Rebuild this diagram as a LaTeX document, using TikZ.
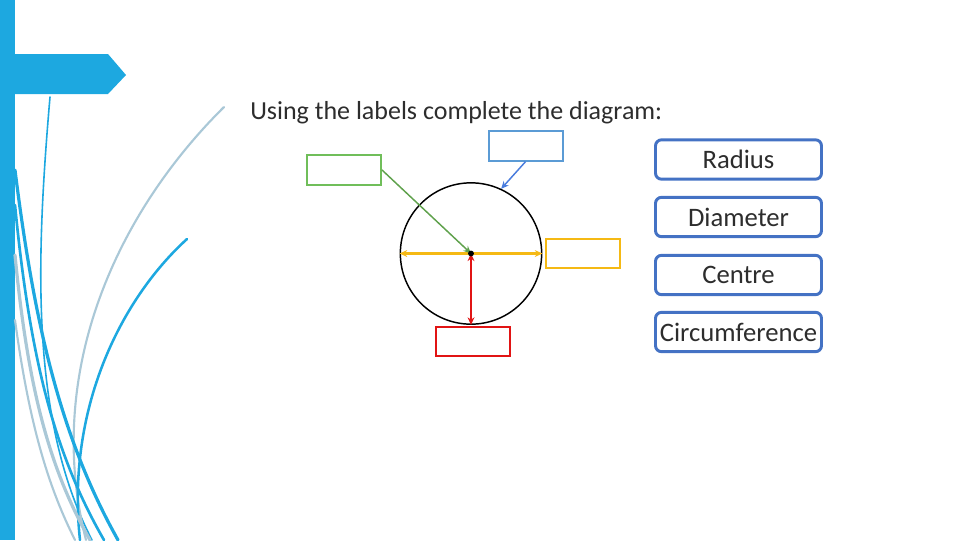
\documentclass[tikz,border=0pt]{standalone}
\usepackage{fontspec}
\setmainfont{Carlito}
\usepackage{xcolor}
\usetikzlibrary{arrows.meta,calc}

\definecolor{barblue}{RGB}{29,168,224}
\definecolor{paleblue}{RGB}{170,200,215}
\definecolor{lblgreen}{RGB}{112,190,90}
\definecolor{lblblue}{RGB}{91,155,213}
\definecolor{lblyellow}{RGB}{245,185,20}
\definecolor{lblred}{RGB}{225,20,20}
\definecolor{wordblue}{RGB}{68,114,196}
\definecolor{inkgray}{RGB}{45,45,45}

\begin{document}
\begin{tikzpicture}[
  x=0.75pt, y=-0.75pt,
  font=\fontsize{20}{22}\selectfont,
  text=inkgray,
  blank/.style={draw, line width=1.5pt, minimum width=55.5pt, minimum height=22pt, inner sep=0pt},
  word/.style={draw=wordblue, line width=2.2pt, rounded corners=4.5pt, minimum width=124.5pt, minimum height=29.5pt, inner sep=0pt, fill=white},
  arr/.style={-{Stealth[length=2mm,width=1.8mm]}, line width=1.1pt},
  darr/.style={{Stealth[length=2mm,width=1.8mm]}-{Stealth[length=2mm,width=1.8mm]}, line width=1.6pt},
  swoosh/.style={line cap=round},
]
  \useasboundingbox (0,0) rectangle (960,540);

  % slide decoration on the left
  \fill[barblue] (0,0) rectangle (15,540);
  \fill[barblue] (15,54) -- (108,54) -- (126,75) -- (108,94) -- (15,94) -- cycle;
  \draw[swoosh, barblue, line width=1.2pt] (50,97) .. controls (36,260) and (30,420) .. (92,540);
  \draw[swoosh, paleblue, line width=1.6pt] (224,107) .. controls (110,220) and (45,380) .. (86,540);
  \draw[swoosh, barblue, line width=1.9pt] (187,239) .. controls (120,300) and (66,410) .. (80,540);
  \draw[swoosh, barblue, line width=2.4pt] (15,170) .. controls (35,330) and (62,440) .. (118,540);
  \draw[swoosh, barblue, line width=2pt] (15,205) .. controls (30,360) and (55,455) .. (104,540);
  \draw[swoosh, paleblue, line width=2.4pt] (15,255) .. controls (28,390) and (50,470) .. (90,540);
  \draw[swoosh, paleblue, line width=1.6pt] (15,320) .. controls (30,430) and (50,490) .. (75,540);

  % question
  \node[anchor=base west, inner sep=0pt, font=\fontsize{19.5}{22}\selectfont] (title) at (250,119) {Using the labels complete the diagram:};

  % the circle
  \node[draw, circle, line width=1.1pt, minimum size=106pt, inner sep=0pt] (circ) at (471,253.5) {};
  \coordinate (ctr) at (circ.center);

  % empty label boxes
  \node[blank, draw=lblgreen] (gbox) at (344,170) {};
  \node[blank, draw=lblblue] (bbox) at (525.5,146) {};
  \node[blank, draw=lblyellow] (ybox) at (582.5,253.5) {};
  \node[blank, draw=lblred] (rbox) at (473,341.5) {};

  % pointers
  \draw[darr, draw=lblyellow, fill=lblyellow] (circ.west) -- (circ.east);
  \draw[darr, draw=lblred, fill=lblred] (ctr) -- (circ.south);
  \draw[arr, lblgreen!85!black] (gbox.east) -- (ctr);
  \draw[arr, lblblue!80!blue] (bbox.south) -- (circ.65);
  \fill (ctr) circle (2.2pt);

  % labels to use
  \node[word] (radius) at (738.5,159.5) {Radius};
  \node[word] (diam) at (738.5,217) {Diameter};
  \node[word] (centre) at (738.5,275) {Centre};
  \node[word] (circumf) at (738.5,332) {Circumference};
\end{tikzpicture}
\end{document}
